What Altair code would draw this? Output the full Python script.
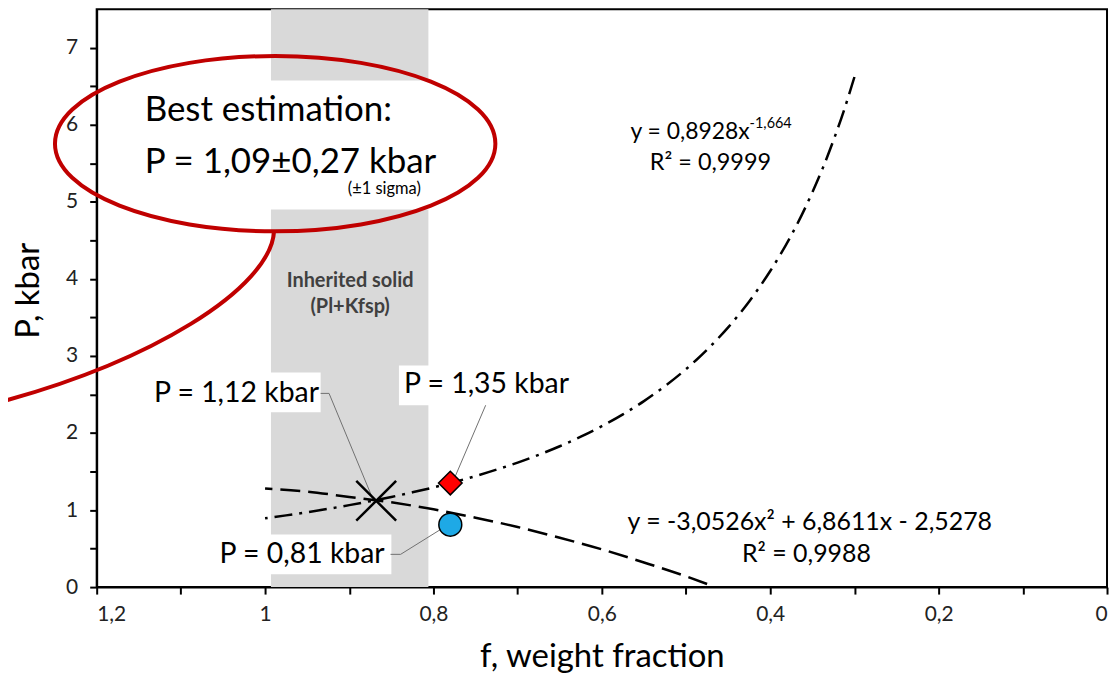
import altair as alt
import pandas as pd

FONT = "Lato"

# ---------------- data ----------------
# power-law trend (dash-dot): y = 0,8928x^-1,664
pow_f = [1.00, 0.975, 0.95, 0.925, 0.90, 0.875, 0.85, 0.825, 0.80, 0.775, 0.75, 0.725, 0.70, 0.675,
         0.65, 0.625, 0.60, 0.575, 0.55, 0.525, 0.50, 0.4875, 0.475, 0.4625, 0.45, 0.4375, 0.425,
         0.4125, 0.40, 0.3875, 0.375, 0.3625, 0.35, 0.3375, 0.325, 0.3125, 0.30]
pow_p = [0.893, 0.931, 0.972, 1.016, 1.064, 1.115, 1.170, 1.230, 1.294, 1.364, 1.441, 1.525, 1.616, 1.717,
         1.828, 1.952, 2.089, 2.242, 2.414, 2.609, 2.829, 2.951, 3.081, 3.221, 3.371, 3.533, 3.708,
         3.897, 4.102, 4.324, 4.566, 4.831, 5.122, 5.441, 5.795, 6.185, 6.620]
# quadratic trend (dashed): y = -3,0526x2 + 6,8611x - 2,5278
quad_f = [1.00, 0.95, 0.90, 0.85, 0.80, 0.75, 0.70, 0.65, 0.60, 0.55, 0.50, 0.475]
quad_p = [1.28, 1.24, 1.17, 1.10, 1.01, 0.90, 0.78, 0.64, 0.49, 0.32, 0.14, 0.04]

# markers
cross_f, cross_p = [0.868], [1.12]
diamond_f, diamond_p = [0.78], [1.35]
circle_f, circle_p = [0.78], [0.81]

# shaded band "Inherited solid"
band_f = [0.993, 0.806]
band_p = [0.0, 7.5]

x_ticks = [0, 0.1, 0.2, 0.3, 0.4, 0.5, 0.6, 0.7, 0.8, 0.9, 1.0, 1.1, 1.2]
y_ticks = [0, 0.5, 1, 1.5, 2, 2.5, 3, 3.5, 4, 4.5, 5, 5.5, 6, 6.5, 7]

# ---------------- annotation layout ----------------
boxes = pd.DataFrame({
    "x": [1.161, 1.143, 0.841, 1.063],
    "x2": [0.794, 0.934, 0.631, 0.850],
    "y": [6.575, 2.785, 2.875, 0.683],
    "y2": [4.899, 2.269, 2.359, 0.168],
})
leaders = pd.DataFrame({
    "id": ["a", "a", "a", "b", "b", "c", "c", "c"],
    "ord": [0, 1, 2, 0, 1, 0, 1, 2],
    "x": [0.934, 0.924, 0.873, 0.738, 0.776, 0.851, 0.839, 0.781],
    "y": [2.514, 2.514, 1.17, 2.36, 1.39, 0.425, 0.425, 0.82],
})

xs = alt.Scale(domain=[0, 1.2], reverse=True, nice=False, zero=False)
ys = alt.Scale(domain=[0, 7.5], nice=False, zero=False)

xax = alt.Axis(
    values=x_ticks,
    labelExpr="abs(round(datum.value*10) % 2) == 1 ? '' : replace(format(datum.value, '~g'), '.', ',')",
    grid=False, titleFontSize=33, titlePadding=16, labelPadding=10,
)
yax = alt.Axis(
    values=y_ticks,
    labelExpr="datum.value % 1 == 0 ? format(datum.value, 'd') : ''",
    grid=False, titleFontSize=33, titlePadding=20, labelPadding=12,
    titleY=282, titleAlign="center",
)
X = alt.X("x:Q", scale=xs, axis=xax, title="f, weight fraction")
Y = alt.Y("y:Q", scale=ys, axis=yax, title="P, kbar")

band = alt.Chart(pd.DataFrame({"x": [band_f[0]], "x2": [band_f[1]], "y": [band_p[0]], "y2": [band_p[1]]})).mark_rect(
    color="#D9D9D9").encode(x=X, x2="x2:Q", y=Y, y2="y2:Q")

white = alt.Chart(boxes).mark_rect(color="white").encode(x=X, x2="x2:Q", y=Y, y2="y2:Q")

pow_line = alt.Chart(pd.DataFrame({"x": pow_f, "y": pow_p})).mark_line(
    color="black", strokeWidth=2.5, strokeDash=[18, 7, 3, 7], interpolate="monotone").encode(
    x=X, y=Y, order="x:Q")
quad_line = alt.Chart(pd.DataFrame({"x": quad_f, "y": quad_p})).mark_line(
    color="black", strokeWidth=2.5, strokeDash=[20, 8], interpolate="monotone").encode(
    x=X, y=Y, order="x:Q")

lead = alt.Chart(leaders).mark_line(color="#707070", strokeWidth=1).encode(
    x=X, y=Y, detail="id:N", order="ord:Q")

cross = alt.Chart(pd.DataFrame({"x": cross_f, "y": cross_p})).mark_point(
    shape="M-1,-1L1,1M1,-1L-1,1", size=1600, filled=False, stroke="black",
    strokeWidth=2.5, opacity=1).encode(x=X, y=Y)
diamond = alt.Chart(pd.DataFrame({"x": diamond_f, "y": diamond_p})).mark_point(
    shape="diamond", size=560, filled=True, fill="#FF0000", stroke="black",
    strokeWidth=1.5, opacity=1).encode(x=X, y=Y)
circle = alt.Chart(pd.DataFrame({"x": circle_f, "y": circle_p})).mark_point(
    shape="circle", size=529, filled=True, fill="#1EA9E6", stroke="black",
    strokeWidth=1.5, opacity=1).encode(x=X, y=Y)


def txt(x, y, t, **kw):
    return alt.Chart(pd.DataFrame({"x": [x], "y": [y], "t": [t]})).mark_text(
        font=FONT, **kw).encode(x=X, y=Y, text="t:N")


texts = [
    txt(1.034, 2.514, "P = 1,12 kbar", fontSize=28.5, color="black"),
    txt(0.737, 2.63, "P = 1,35 kbar", fontSize=28.5, color="black"),
    txt(0.956, 0.425, "P = 0,81 kbar", fontSize=28.5, color="black"),
    txt(0.899, 3.97, "Inherited solid", fontSize=20, fontWeight="bold", color="#404040"),
    txt(0.899, 3.635, "(Pl+Kfsp)", fontSize=20, fontWeight="bold", color="#404040"),
    txt(1.143, 6.19, "Best estimation:", fontSize=35, align="left", color="black"),
    txt(1.143, 5.52, "P = 1,09\u00b10,27 kbar", fontSize=35, align="left", color="black"),
    txt(0.815, 5.16, "(\u00b11 sigma)", fontSize=16.5, align="right", color="black"),
    txt(0.566, 5.91, "y = 0,8928x", fontSize=23, align="left", color="black"),
    txt(0.4245, 6.01, "-1,664", fontSize=14.5, align="left", color="black"),
    txt(0.471, 5.51, "R\u00b2 = 0,9999", fontSize=23.5, color="black"),
    txt(0.353, 0.84, "y = -3,0526x\u00b2 + 6,8611x - 2,5278", fontSize=25, color="black"),
    txt(0.357, 0.425, "R\u00b2 = 0,9988", fontSize=25, color="black"),
]

ELLIPSE = ("M-1,0A1,0.398,0,1,1,1,0A1,0.398,0,1,1,-1,0"
           "M-0.005,0.398C-0.02,0.65,-0.55,1.0,-1.35,1.2")
ellipse = alt.Chart(pd.DataFrame({"x": [0.988], "y": [5.755]})).mark_point(
    shape=ELLIPSE, size=195364, filled=False, stroke="#C00000", strokeWidth=4,
    opacity=1).encode(x=X, y=Y)

chart = alt.layer(
    band, white, pow_line, quad_line, lead, cross, diamond, circle, *texts, ellipse
).properties(
    width=1014, height=580,
    autosize=alt.AutoSizeParams(type="none"),
    padding={"left": 89, "top": 0, "right": 5, "bottom": 85},
).configure_view(
    stroke="black", strokeWidth=2
).configure_axis(
    domainColor="black", domainWidth=2, tickColor="black", tickWidth=2, tickSize=7,
    labelFont=FONT, titleFont=FONT, labelFontSize=21, labelColor="#222222",
    titleColor="black", titleFontWeight="normal",
)

chart.save("out.html", embed_options={"renderer": "svg", "actions": False})
